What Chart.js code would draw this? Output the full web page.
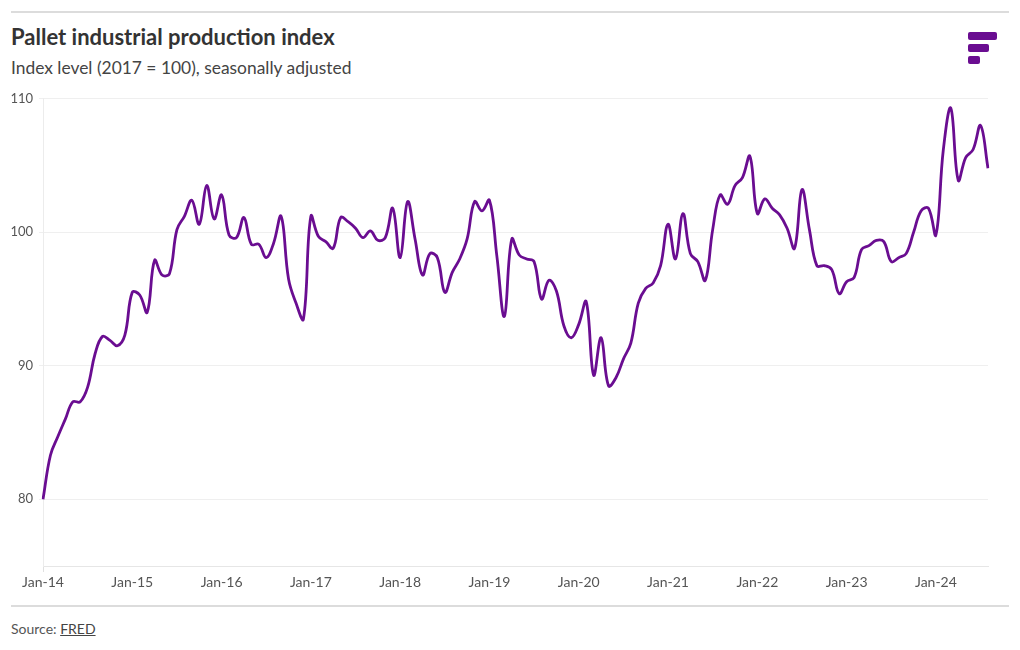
<!DOCTYPE html>
<html>
<head>
<meta charset="utf-8">
<script src="https://cdn.jsdelivr.net/npm/chart.js@4.4.1/dist/chart.umd.min.js"></script>
<style>
  body { margin: 0; background: #fff; font-family: 'Lato', sans-serif; }
  #wrap { position: relative; width: 1020px; height: 650px; overflow: hidden; }
  .rule { position: absolute; left: 11px; width: 998px; height: 2px; background: #dcdcdc; }
  #title { position: absolute; left: 11px; top: 23px; font-size: 22px; font-weight: 700; color: #333; }
  #subtitle { position: absolute; left: 11px; top: 57px; font-size: 17.4px; color: #444; }
  #source { position: absolute; left: 11px; top: 620px; font-size: 14px; color: #555; }
  #source u { color: #444; }
  .bar { position: absolute; left: 968px; height: 8px; border-radius: 2px; background: #6a0d91; }
  #chartBox { position: absolute; left: 0; top: 85px; width: 1000px; height: 505px; }
</style>
</head>
<body>
<div id="wrap">
  <div class="rule" style="top: 11px;"></div>
  <div id="title">Pallet industrial production index</div>
  <div id="subtitle">Index level (2017 = 100), seasonally adjusted</div>
  <div class="bar" style="top: 32px; width: 29px;"></div>
  <div class="bar" style="top: 44px; width: 21px;"></div>
  <div class="bar" style="top: 56px; width: 12px;"></div>
  <div id="chartBox"><canvas id="chart"></canvas></div>
  <div class="rule" style="top: 605px;"></div>
  <div id="source">Source: <u>FRED</u></div>
</div>
<script>
// monthly, Jan 2014 - Aug 2024
const years = ['14', '15', '16', '17', '18', '19', '20', '21', '22', '23', '24'];
const months = ['Jan', 'Feb', 'Mar', 'Apr', 'May', 'Jun', 'Jul', 'Aug', 'Sep', 'Oct', 'Nov', 'Dec'];

const values2014 = [80.0, 83.3, 84.7, 86.0, 87.3, 87.3, 88.4, 90.9, 92.2, 91.9, 91.5, 92.3];
const values2015 = [95.5, 95.3, 94.0, 97.9, 96.8, 96.9, 100.2, 101.2, 102.4, 100.6, 103.5, 101.0];
const values2016 = [102.8, 99.8, 99.6, 101.1, 99.1, 99.1, 98.1, 99.2, 101.2, 96.5, 94.7, 93.5];
const values2017 = [101.2, 99.7, 99.3, 98.8, 101.1, 100.8, 100.3, 99.6, 100.1, 99.4, 99.6, 101.8];
const values2018 = [98.1, 102.3, 99.5, 96.8, 98.4, 98.1, 95.5, 97.0, 98.0, 99.5, 102.3, 101.6];
const values2019 = [102.4, 98.2, 93.7, 99.5, 98.3, 98.0, 97.8, 95.0, 96.4, 95.6, 93.0, 92.1];
const values2020 = [93.1, 94.8, 89.3, 92.1, 88.5, 89.1, 90.5, 91.7, 94.7, 95.8, 96.2, 97.5];
const values2021 = [100.6, 98.0, 101.4, 98.4, 97.8, 96.4, 100.2, 102.8, 102.1, 103.5, 104.1, 105.7];
const values2022 = [101.4, 102.5, 101.8, 101.3, 100.3, 98.8, 103.2, 100.2, 97.5, 97.5, 97.2, 95.4];
const values2023 = [96.3, 96.6, 98.7, 99.0, 99.4, 99.3, 97.8, 98.1, 98.4, 100.0, 101.6, 101.8];
const values2024 = [99.8, 106.2, 109.3, 103.9, 105.6, 106.2, 108.0, 104.8];

const values = [].concat(values2014, values2015, values2016, values2017, values2018,
  values2019, values2020, values2021, values2022, values2023, values2024);

const labels = [];
years.forEach(y => months.forEach(m => labels.push(m + '-' + y)));
labels.length = values.length;

const yTicks = [80, 90, 100, 110];

const ctx = document.getElementById('chart').getContext('2d');

new Chart(ctx, {
  type: 'line',
  data: {
    labels: labels,
    datasets: [{
      data: values,
      borderColor: '#6a0d91',
      borderWidth: 2.8,
      pointRadius: 0,
      tension: 0.4,
      fill: false
    }]
  },
  options: {
    responsive: true,
    maintainAspectRatio: false,
    animation: false,
    layout: { padding: { top: 5, right: 12, left: 0, bottom: 0 } },
    plugins: {
      legend: { display: false },
      tooltip: { enabled: false }
    },
    scales: {
      x: {
        offset: false,
        border: { color: '#e6e6e6' },
        grid: {
          drawOnChartArea: false,
          tickLength: 6,
          tickColor: c => (c.index % 12 === 0 ? '#e0e0e0' : 'rgba(0,0,0,0)')
        },
        ticks: {
          autoSkip: false,
          maxRotation: 0,
          padding: 2,
          color: '#555',
          font: { family: 'Lato', size: 14 },
          callback: function (v, i) { return i % 12 === 0 ? labels[i] : null; }
        },
        afterFit: s => { s.height = 24; }
      },
      y: {
        min: 75,
        max: 110,
        afterBuildTicks: s => { s.ticks = yTicks.map(v => ({ value: v })); },
        border: { color: '#ececec' },
        grid: { color: '#efefef', tickLength: 4 },
        ticks: {
          color: '#555',
          padding: 6,
          font: { family: 'Lato', size: 13 }
        },
        afterFit: s => { s.width = 43; }
      }
    }
  }
});
</script>
</body>
</html>
